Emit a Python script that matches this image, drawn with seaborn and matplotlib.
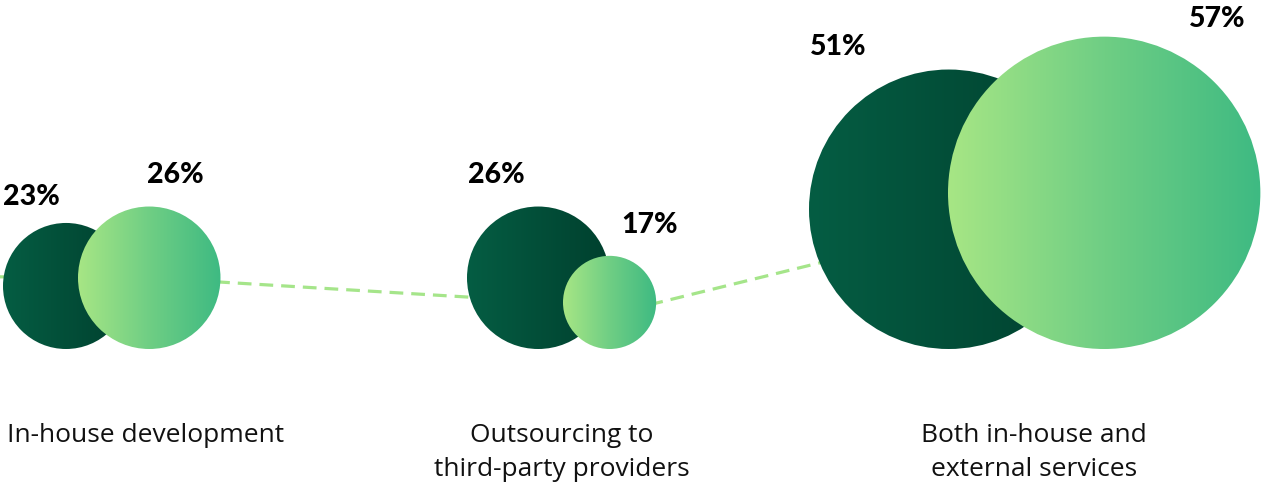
import numpy as np
import pandas as pd
import matplotlib
matplotlib.use("Agg")
import matplotlib.pyplot as plt
from matplotlib.colors import LinearSegmentedColormap
from matplotlib.patches import Circle
import seaborn as sns

# ---------------- data ----------------
categories = ["In-house development",
              "Outsourcing to\nthird-party providers",
              "Both in-house and\nexternal services"]
series_dark = [23, 26, 51]    # dark green circles
series_light = [26, 17, 57]   # light green circles

# ---------------- layout (pixel units) ----------------
W, H = 1261, 482
K = 2.74                 # radius (px) per percentage point
BASE = 349               # circles share a common bottom line
dark_left = [3, 467, 809]
light_left = [78, 563, 948]
cat_x = [146, 562, 1034]
dark_lbl_off = [(0, 18), (1, 24), (1, 15)]     # (dx from circle left, dy above circle top)
light_lbl_off = [(69, 24), (58, 23), (241, 10)]

sns.set_theme(style="white")
plt.rcParams['font.family'] = ['Lato', 'DejaVu Sans']

fig = plt.figure(figsize=(W / 100, H / 100), dpi=100)
ax = fig.add_axes([0, 0, 1, 1])
ax.set_xlim(0, W)
ax.set_ylim(H, 0)
ax.set_aspect('equal')
ax.axis('off')

dark_cmap = LinearSegmentedColormap.from_list("dk", ["#055D43", "#00402E"])
light_cmap = LinearSegmentedColormap.from_list("lt", ["#A7E685", "#6FCE84", "#3EBA82"])
grad = np.linspace(0, 1, 256).reshape(1, -1)

def circle(cx, cy, r, cmap, z):
    clip = Circle((cx, cy), r, transform=ax.transData, facecolor='none', edgecolor='none')
    ax.add_patch(clip)
    im = ax.imshow(grad, cmap=cmap, extent=[cx - r, cx + r, cy + r, cy - r],
                   aspect='auto', interpolation='bilinear', zorder=z)
    im.set_clip_path(clip)

centers_light = []
for i, cat in enumerate(categories):
    rd = series_dark[i] * K
    rl = series_light[i] * K
    cxd, cyd = dark_left[i] + rd, BASE - rd
    cxl, cyl = light_left[i] + rl, BASE - rl
    centers_light.append((cxl, cyl))
    circle(cxd, cyd, rd, dark_cmap, 2 + 2 * i)
    circle(cxl, cyl, rl, light_cmap, 3 + 2 * i)

    dx, dy = dark_lbl_off[i]
    ax.text(dark_left[i] + dx, cyd - rd - dy, f"{series_dark[i]}%",
            ha='left', va='baseline', fontsize=20.5, fontweight=900, color='black', zorder=20)
    dx, dy = light_lbl_off[i]
    ax.text(light_left[i] + dx, cyl - rl - dy, f"{series_light[i]}%",
            ha='left', va='baseline', fontsize=20.5, fontweight=900, color='black', zorder=20)

    for j, line in enumerate(cat.split("\n")):
        ax.text(cat_x[i], 442 + 34 * j, line, ha='center', va='baseline',
                fontsize=19, color='#111111', zorder=20,
                family=['Open Sans', 'DejaVu Sans'])

# dashed connector through the light circles (vertices hidden behind circles)
c1, c2, c3 = centers_light
conn = pd.DataFrame({
    "x": [-10, c1[0], c2[0] + 29, c3[0]],
    "y": [c1[1] - 1, c1[1], c2[1] + 5, c3[1]],
})
sns.lineplot(data=conn, x="x", y="y", sort=False, ax=ax, color="#A5E58A",
             linewidth=2.3, estimator=None, zorder=1)
ax.lines[-1].set_dashes((4.3, 2.5))
ax.set_xlim(0, W)
ax.set_ylim(H, 0)
ax.axis('off')

fig.savefig("out.png", dpi=100, facecolor='white')
